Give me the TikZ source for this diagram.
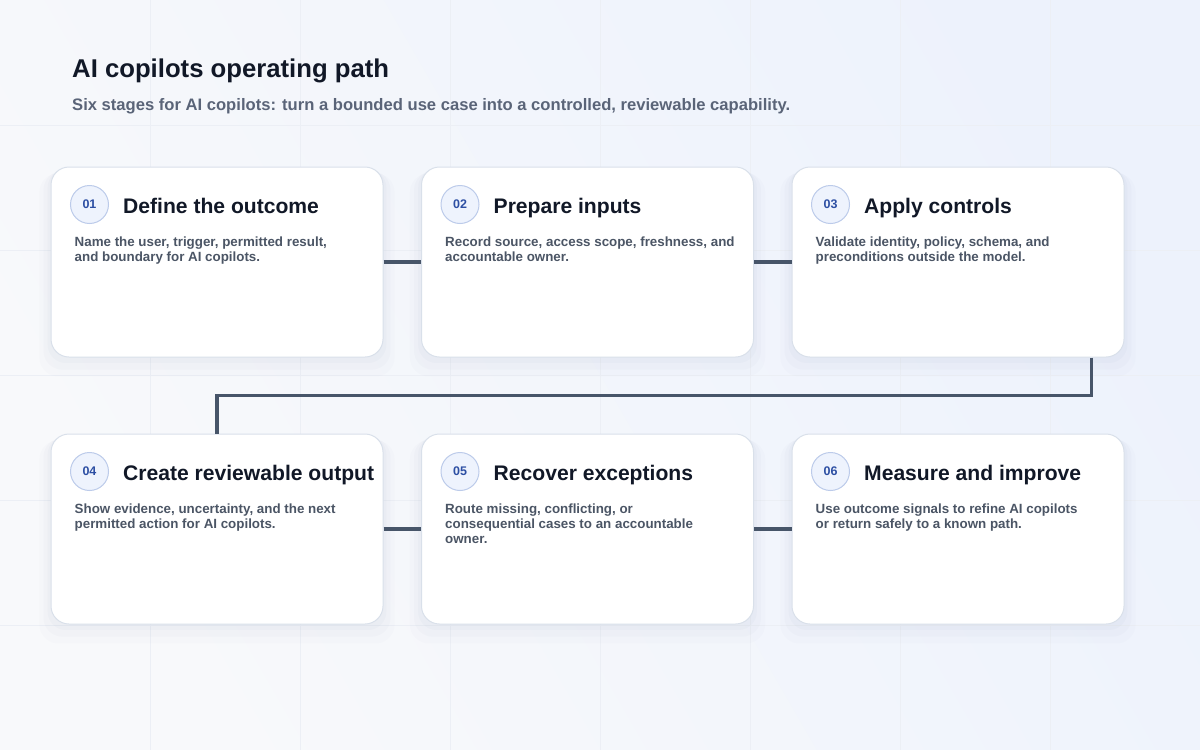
\documentclass[tikz,border=0pt]{standalone}
\usepackage{fontspec}
\setmainfont{Liberation Sans}
\usetikzlibrary{positioning,calc,shadows}
\definecolor{Ink}{HTML}{111827}
\definecolor{Slate}{HTML}{5A6478}
\definecolor{Body}{HTML}{4B5565}
\definecolor{Wire}{HTML}{475569}
\definecolor{Edge}{HTML}{D9E0EA}
\definecolor{Ring}{HTML}{BCCBEA}
\definecolor{Disc}{HTML}{EEF3FD}
\definecolor{Num}{HTML}{2D4FA3}
\definecolor{BgA}{HTML}{F8F9FB}
\definecolor{BgB}{HTML}{EDF2FC}
\definecolor{GridLine}{HTML}{ECEFF5}
\definecolor{Shade}{HTML}{7F8DB0}
\tikzstyle{Card} = [draw=Edge, line width=1pt, fill=white, rounded corners=18pt, minimum width=332pt, minimum height=190pt,
  general shadow={fill=Shade, opacity=.025, shadow yshift=-12pt, shadow scale=1.07},
  general shadow={fill=Shade, opacity=.03, shadow yshift=-8pt, shadow scale=1.045},
  general shadow={fill=Shade, opacity=.04, shadow yshift=-4pt, shadow scale=1.02}]
\tikzstyle{Badge} = [circle, draw=Ring, fill=Disc, line width=1pt, minimum size=38pt, inner sep=0pt, text=Num, font=\fontsize{12.5}{14}\selectfont\bfseries]
\tikzstyle{Heading} = [anchor=base west, inner sep=0pt, text=Ink, font=\fontsize{21.1}{25}\selectfont\bfseries]
\tikzstyle{Blurb} = [anchor=north west, inner sep=0pt, align=left, text=Body, font=\fontsize{13.35}{15}\selectfont\bfseries]
\tikzstyle{Link} = [draw=Wire, line width=3.2pt]

\begin{document}
\begin{tikzpicture}[x=1pt,y=-1pt]
        \useasboundingbox (0,0) rectangle (1200,750);
        \shade[left color=BgA, right color=BgB, shading angle=120] (0,0) rectangle (1200,750);
        \foreach \x in {150,300,...,1050} \draw[GridLine] (\x,0) -- (\x,750);
        \foreach \y in {125,250,...,625} \draw[GridLine] (0,\y) -- (1200,\y);

        %%%%% Header %%%%%

        \node[anchor=base west, inner sep=0pt, text=Ink, font=\fontsize{25.7}{30}\selectfont\bfseries] (T) at (72,77) {AI copilots operating path};
        \node[anchor=base west, inner sep=0pt, text=Slate, font=\fontsize{16.6}{19}\selectfont\bfseries] (U) at (72,110) {Six stages for AI copilots: turn a bounded use case into a controlled, reviewable capability.};

        %%%%% Top Row %%%%%

        \draw node[Card] at (217,262) (A) {};
        \draw node[Card] at ($(A)+(370.5,0)$) (B) {};
        \draw node[Card] at ($(B)+(370.5,0)$) (C) {};

        %%%%% Bottom Row %%%%%

        \draw node[Card] at ($(A)+(0,267)$) (D) {};
        \draw node[Card] at ($(D)+(370.5,0)$) (E) {};
        \draw node[Card] at ($(E)+(370.5,0)$) (F) {};

        %%%%% Card Texts %%%%%

        \node[Badge] at ($(A.north west)+(39,38)$) (Ab) {01};
        \node[Heading] at ($(Ab)+(33.5,8.5)$) (At) {Define the outcome};
        \node[Blurb] at ($(A.north west)+(24,69.5)$) (Ad) {\strut Name the user, trigger, permitted result,\\and boundary for AI copilots.};

        \node[Badge] at ($(B.north west)+(39,38)$) (Bb) {02};
        \node[Heading] at ($(Bb)+(33.5,8.5)$) (Bt) {Prepare inputs};
        \node[Blurb] at ($(B.north west)+(24,69.5)$) (Bd) {\strut Record source, access scope, freshness, and\\accountable owner.};

        \node[Badge] at ($(C.north west)+(39,38)$) (Cb) {03};
        \node[Heading] at ($(Cb)+(33.5,8.5)$) (Ct) {Apply controls};
        \node[Blurb] at ($(C.north west)+(24,69.5)$) (Cd) {\strut Validate identity, policy, schema, and\\preconditions outside the model.};

        \node[Badge] at ($(D.north west)+(39,38)$) (Db) {04};
        \node[Heading] at ($(Db)+(33.5,8.5)$) (Dt) {Create reviewable output};
        \node[Blurb] at ($(D.north west)+(24,69.5)$) (Dd) {\strut Show evidence, uncertainty, and the next\\permitted action for AI copilots.};

        \node[Badge] at ($(E.north west)+(39,38)$) (Eb) {05};
        \node[Heading] at ($(Eb)+(33.5,8.5)$) (Et) {Recover exceptions};
        \node[Blurb] at ($(E.north west)+(24,69.5)$) (Ed) {\strut Route missing, conflicting, or\\consequential cases to an accountable\\owner.};

        \node[Badge] at ($(F.north west)+(39,38)$) (Fb) {06};
        \node[Heading] at ($(Fb)+(33.5,8.5)$) (Ft) {Measure and improve};
        \node[Blurb] at ($(F.north west)+(24,69.5)$) (Fd) {\strut Use outcome signals to refine AI copilots\\or return safely to a known path.};

        %%%%% Connecting Lines %%%%%

        \coordinate (turn) at ($(C.south east)+(-33,38)$);

        \path [Link] (A) -- (B);
        \path [Link] (B) -- (C);
        \path [Link] (C.south east -| turn) -- (turn) -| (D.north);
        \path [Link] (D) -- (E);
        \path [Link] (E) -- (F);

\end{tikzpicture}
\end{document}
